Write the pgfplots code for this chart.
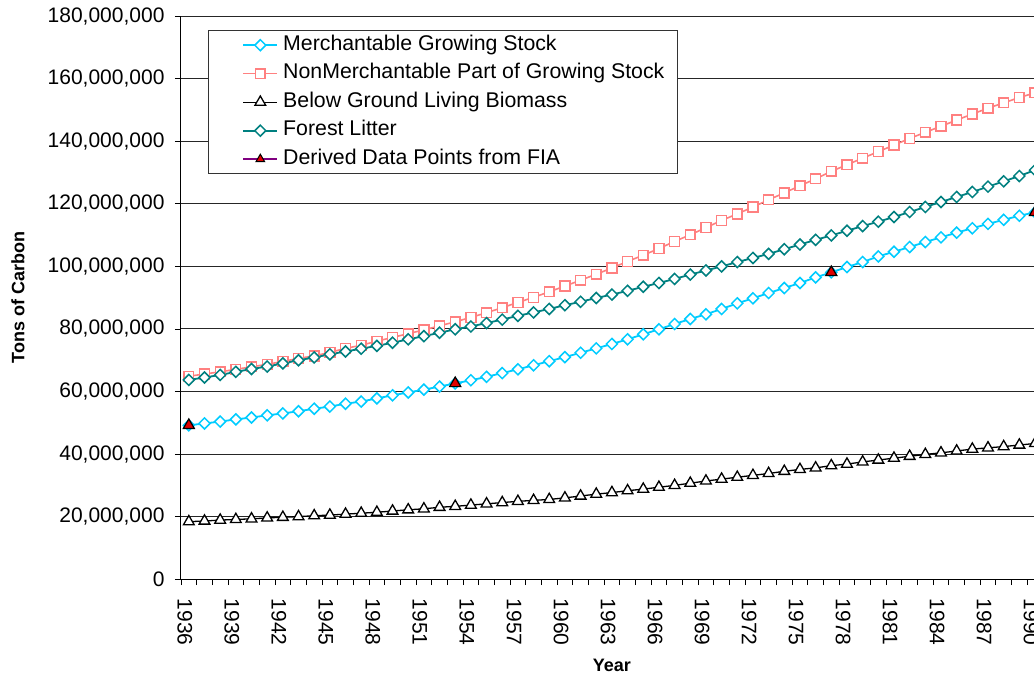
\documentclass[border=0pt]{standalone}
\usepackage{fontspec}
\setmainfont{Liberation Sans}
\usepackage{pgfplots}
\usepackage{pgfplotstable}
\pgfplotsset{compat=1.18}
\definecolor{merch}{HTML}{00CCFF}
\definecolor{nonm}{HTML}{FF8080}
\definecolor{litter}{HTML}{008080}
\definecolor{fiapurple}{HTML}{800080}
\definecolor{fiared}{HTML}{E00000}

% values in millions of tons of carbon
\pgfplotstableread{
year merch nonmerch below litter
1936 49.2 64.9 18.4 63.7
1937 49.8 65.6 18.6 64.5
1938 50.4 66.3 18.9 65.3
1939 51.1 67.1 19.1 66.3
1940 51.7 67.9 19.3 67.2
1941 52.4 68.7 19.6 68.0
1942 53.0 69.6 19.8 69.0
1943 53.7 70.6 20.0 70.0
1944 54.5 71.4 20.3 70.9
1945 55.2 72.5 20.5 71.9
1946 56.1 73.8 20.8 72.8
1947 56.8 74.8 21.1 73.7
1948 57.8 76.1 21.4 74.6
1949 58.8 77.3 21.8 75.6
1950 59.7 78.5 22.2 76.7
1951 60.6 79.7 22.5 77.7
1952 61.6 81.0 23.0 78.8
1953 62.6 82.3 23.3 79.9
1954 63.6 83.7 23.7 80.8
1955 64.7 85.2 24.1 81.9
1956 65.9 86.8 24.5 83.0
1957 67.1 88.5 24.9 84.2
1958 68.4 90.1 25.2 85.3
1959 69.7 91.9 25.5 86.4
1960 71.0 93.7 26.0 87.6
1961 72.4 95.6 26.6 88.7
1962 73.8 97.5 27.2 89.9
1963 75.2 99.5 27.7 91.0
1964 76.7 101.6 28.3 92.2
1965 78.3 103.6 28.8 93.5
1966 79.9 105.7 29.4 94.7
1967 81.6 108.0 30.0 96.0
1968 83.2 110.1 30.7 97.4
1969 84.7 112.4 31.4 98.7
1970 86.4 114.7 32.0 100.0
1971 88.2 116.8 32.6 101.4
1972 89.8 119.0 33.2 102.7
1973 91.5 121.3 33.8 104.0
1974 93.1 123.5 34.5 105.5
1975 94.7 125.8 35.1 107.0
1976 96.5 128.0 35.6 108.5
1977 98.1 130.4 36.3 109.9
1978 99.8 132.5 36.8 111.4
1979 101.4 134.6 37.5 112.9
1980 103.2 136.7 38.1 114.3
1981 104.7 138.8 38.7 115.8
1982 106.2 140.9 39.3 117.4
1983 107.8 142.9 39.9 119.0
1984 109.3 144.8 40.4 120.6
1985 110.8 146.8 41.0 122.2
1986 112.2 148.7 41.6 123.8
1987 113.6 150.6 42.0 125.5
1988 114.9 152.3 42.4 127.2
1989 116.2 154.0 42.9 128.9
1990 117.3 155.5 43.4 130.8
}\carbon

\pgfplotstableread{
year val
1936 49.2
1953 62.6
1977 98.1
1990 117.3
}\fia

\begin{document}
\begin{tikzpicture}
\path[use as bounding box, clip] (-181pt,-101.8pt) rectangle (853pt,579.2pt);
\begin{axis}[
  at={(0pt,0pt)}, anchor=south west,
  scale only axis, width=861.85pt, height=563pt,
  xmin=1935.5, xmax=1990.5, ymin=0, ymax=180,
  axis x line*=bottom, axis y line*=left,
  axis line style={black, line width=1pt},
  ytick={0,20,...,180},
  yticklabels={{0},{20,000,000},{40,000,000},{60,000,000},{80,000,000},{100,000,000},{120,000,000},{140,000,000},{160,000,000},{180,000,000}},
  xtick={1935.75,1938.75,...,1989.75},
  xticklabels={1936,1939,1942,1945,1948,1951,1954,1957,1960,1963,1966,1969,1972,1975,1978,1981,1984,1987,1990},
  major x tick style=transparent,
  minor xtick={1935.5,1936.5,...,1990.5},
  tick align=outside,
  major tick length=6pt, minor tick length=6pt,
  tick style={black, line width=0.9pt},
  ymajorgrids, grid style={black!85, line width=1pt},
  tick label style={font=\fontsize{21}{25}\selectfont},
  xticklabel style={rotate=-90, anchor=west},
  xticklabel shift=10pt,
  yticklabel shift=7pt,
  xlabel={Year}, ylabel={Tons of Carbon},
  label style={font=\bfseries\fontsize{18}{22}\selectfont},
  xlabel style={at={(axis description cs:0.5,-0.1524)}, anchor=center},
  ylabel style={at={(axis description cs:-0.1891,0.5)}, anchor=center},
  legend style={at={(axis description cs:0.0313,0.9755)}, anchor=north west,
    draw=black!80, line width=0.9pt, fill=white,
    font=\fontsize{21.3}{25}\selectfont, cells={anchor=west},
    inner xsep=8pt, inner ysep=3pt, row sep=5pt,
    nodes={inner xsep=5pt, inner ysep=2pt, text height=15pt, text depth=4.5pt}},
  legend image code/.code={\path (-26pt,0pt);
    \draw[mark repeat=2,mark phase=2,#1] plot coordinates {(0pt,0pt) (17pt,0pt) (34pt,0pt)};},
]
\addplot[color=merch, line width=1.8pt, mark=square*, mark size=3.9pt,
  mark options={fill=white, rotate=45, line width=1.5pt}] table[x=year,y=merch]{\carbon};
\addlegendentry{Merchantable Growing Stock}
\addplot[color=nonm, line width=1.6pt, mark=square*, mark size=4.9pt,
  mark options={fill=white, line width=1.5pt}] table[x=year,y=nonmerch]{\carbon};
\addlegendentry{NonMerchantable Part of Growing Stock}
\addplot[color=black, line width=1.3pt, mark=triangle*, mark size=6.2pt,
  mark options={fill=white, line width=1.3pt}] table[x=year,y=below]{\carbon};
\addlegendentry{Below Ground Living Biomass}
\addplot[color=litter, line width=1.8pt, mark=square*, mark size=3.9pt,
  mark options={fill=white, rotate=45, line width=1.5pt}] table[x=year,y=litter]{\carbon};
\addlegendentry{Forest Litter}
\addplot[forget plot, only marks, mark=triangle*, mark size=6.4pt,
  mark options={fill=fiared, draw=black, line width=1.2pt}] table[x=year,y=val]{\fia};
\addlegendimage{color=fiapurple, line width=1.6pt, mark=triangle*, mark size=5pt,
  mark options={fill=fiared, draw=black, line width=1pt}}
\addlegendentry{Derived Data Points from FIA}
\end{axis}
\end{tikzpicture}
\end{document}
